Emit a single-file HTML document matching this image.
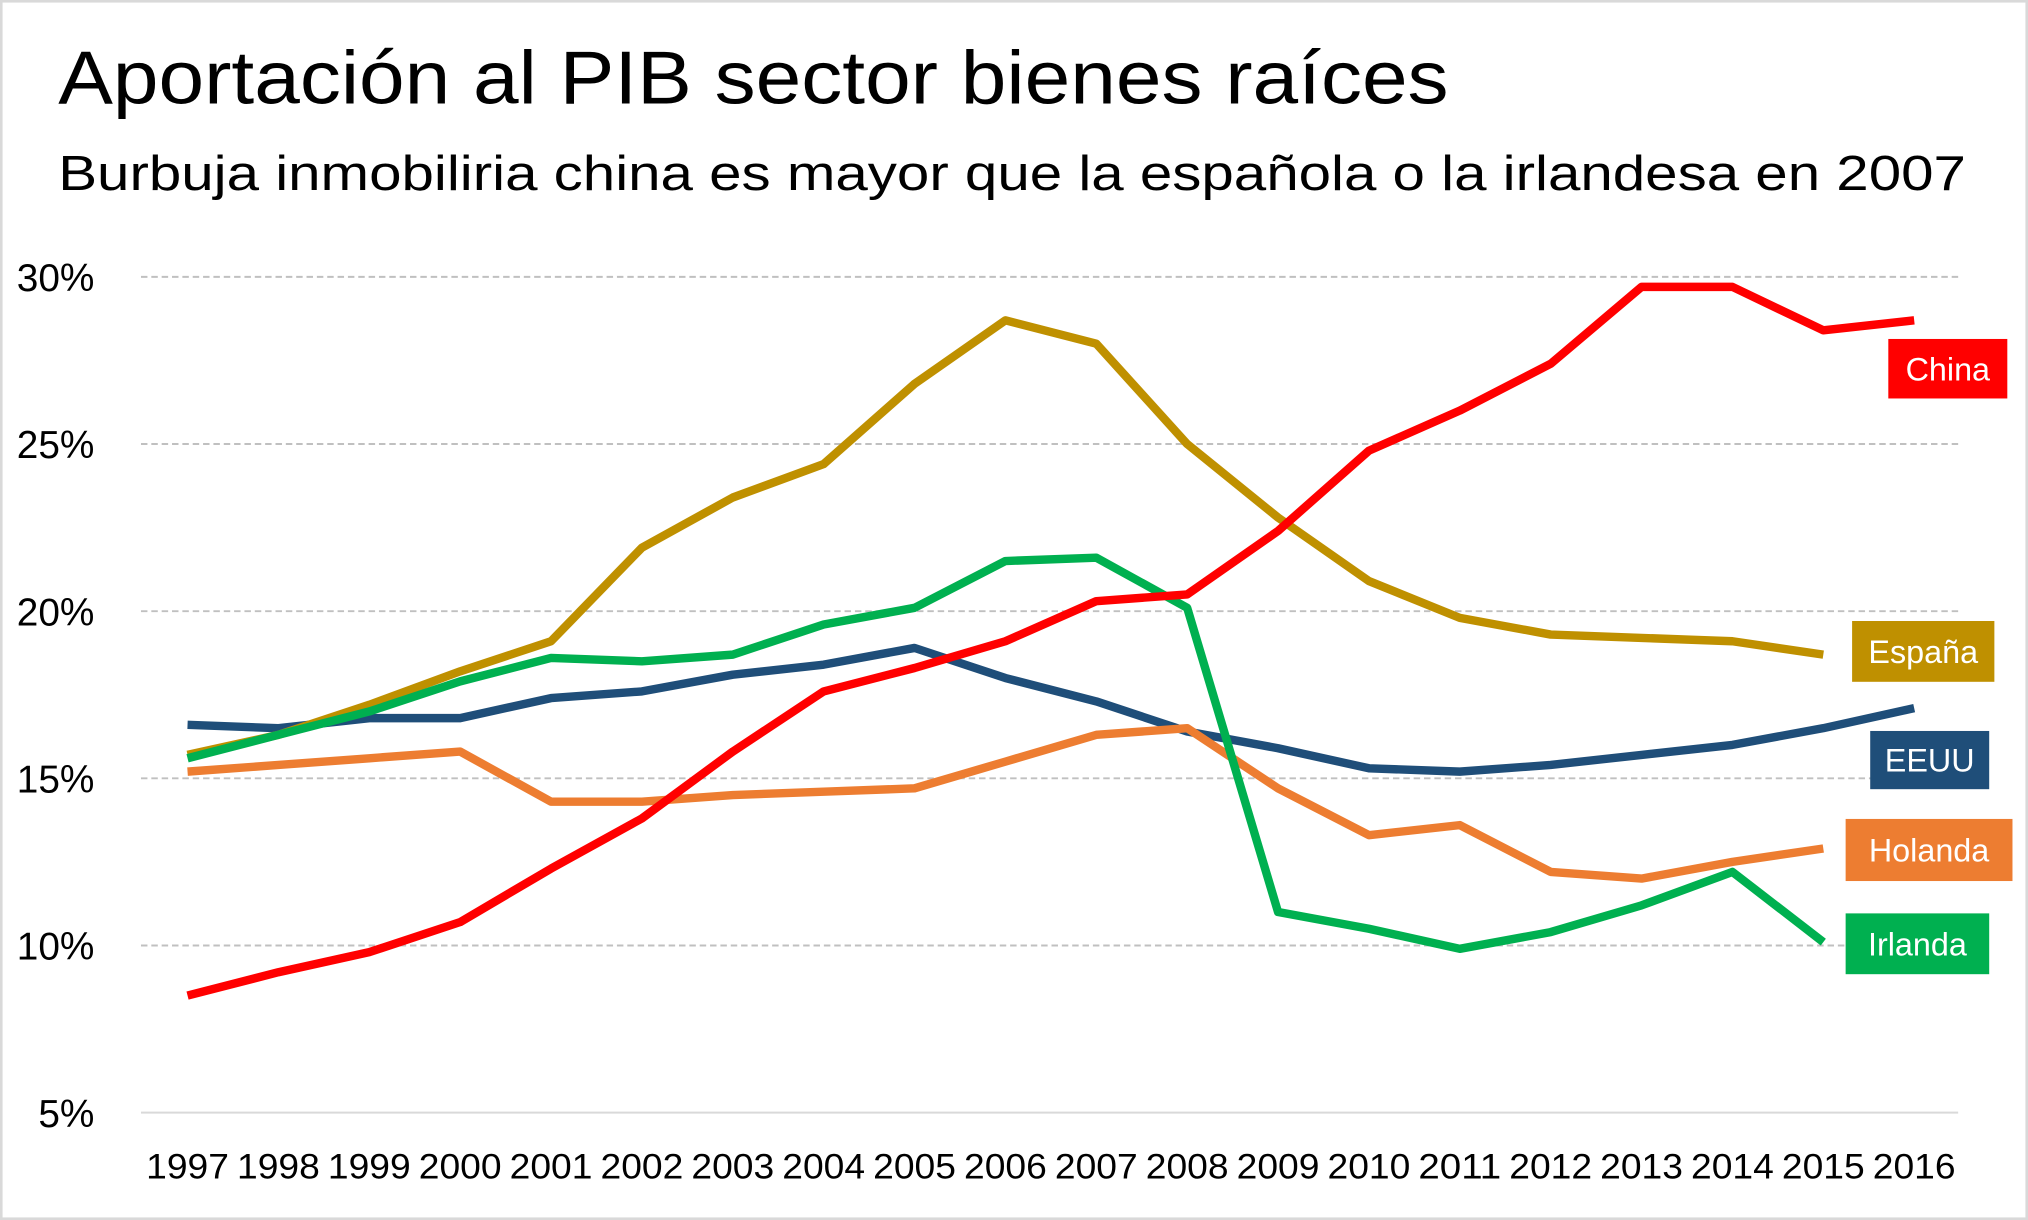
<!DOCTYPE html>
<html><head><meta charset="utf-8"><style>
html,body{margin:0;padding:0;background:#fff;}
svg{display:block;font-family:"Liberation Sans",sans-serif;}
</style></head><body>
<svg id="chart" width="2028" height="1220" viewBox="0 0 1568 943" preserveAspectRatio="none">
<rect x="1" y="1" width="1566" height="941" fill="#fff" stroke="#d9d9d9" stroke-width="2"/>
<text x="45" y="80" font-size="58" textLength="1075" lengthAdjust="spacingAndGlyphs">Aportación al PIB sector bienes raíces</text>
<text x="45" y="147" font-size="38" textLength="1475" lengthAdjust="spacingAndGlyphs">Burbuja inmobiliria china es mayor que la española o la irlandesa en 2007</text>
<g id="grid"></g><g id="yt"></g><g id="xt"></g><g id="lines"></g><g id="labels"></g>
</svg>
<script>
const years=[1997,1998,1999,2000,2001,2002,2003,2004,2005,2006,2007,2008,2009,2010,2011,2012,2013,2014,2015,2016];
const yTicks=[5,10,15,20,25,30];
const china=[8.5,9.2,9.8,10.7,12.3,13.8,15.8,17.6,18.3,19.1,20.3,20.5,22.4,24.8,26.0,27.4,29.7,29.7,28.4,28.7];
const espana=[15.7,16.3,17.2,18.2,19.1,21.9,23.4,24.4,26.8,28.7,28.0,25.0,22.8,20.9,19.8,19.3,19.2,19.1,18.7];
const irlanda=[15.6,16.3,17.0,17.9,18.6,18.5,18.7,19.6,20.1,21.5,21.6,20.1,11.0,10.5,9.9,10.4,11.2,12.2,10.1];
const eeuu=[16.6,16.5,16.8,16.8,17.4,17.6,18.1,18.4,18.9,18.0,17.3,16.4,15.9,15.3,15.2,15.4,15.7,16.0,16.5,17.1];
const holanda=[15.2,15.4,15.6,15.8,14.3,14.3,14.5,14.6,14.7,15.5,16.3,16.5,14.7,13.3,13.6,12.2,12.0,12.5,12.9];
const NS="http://www.w3.org/2000/svg";
const x=i=>145+i*(1335/19);
const y=v=>860-(v-5)*(646/25);
function mk(tag,attrs,parent){const e=document.createElementNS(NS,tag);for(const k in attrs)e.setAttribute(k,attrs[k]);document.getElementById(parent).appendChild(e);return e;}
yTicks.forEach(t=>{
  const l=mk('line',{x1:109,x2:1514,y1:y(t),y2:y(t),stroke:t===5?'#d9d9d9':'#c0c0c0','stroke-width':1.5,'stroke-dasharray':t===5?'none':'5,3'},'grid');
  
  
  const tx=mk('text',{x:73,y:y(t)+11,'font-size':30,'text-anchor':'end'},'yt');
  tx.textContent=t+'%';
  
  
});
years.forEach((yr,i)=>{
  const tx=mk('text',{x:x(i),y:911,'font-size':27,'text-anchor':'middle',textLength:64,lengthAdjust:'spacingAndGlyphs'},'xt');
  tx.textContent=yr;
  
  
});
const series=[['eeuu',eeuu,'#1f4e79'],['holanda',holanda,'#ed7d31'],['espana',espana,'#bf9000'],['irlanda',irlanda,'#00b050'],['china',china,'#ff0000']];
series.forEach(([n,d,c])=>{
  const p=mk('polyline',{points:d.map((v,i)=>x(i)+','+y(v)).join(' '),fill:'none',stroke:c,'stroke-width':6.5,'stroke-linejoin':'round'},'lines');
  
  
});
const labs=[['China',1460,262,92,46,'#ff0000'],['España',1432,480,110,47,'#bf9000'],['EEUU',1446,565,92,45,'#1f4e79'],['Holanda',1427,633,129,48,'#ed7d31'],['Irlanda',1427,706,111,47,'#00b050']];
labs.forEach(([t,lx,ly,w,h,c])=>{
  const r=mk('rect',{x:lx,y:ly,width:w,height:h,fill:c},'labels');
  
  
  const tx=mk('text',{x:lx+w/2,y:ly+h/2+9,'font-size':25,fill:'#fff','text-anchor':'middle'},'labels');
  tx.textContent=t;
  
  
});
</script>
</body></html>
